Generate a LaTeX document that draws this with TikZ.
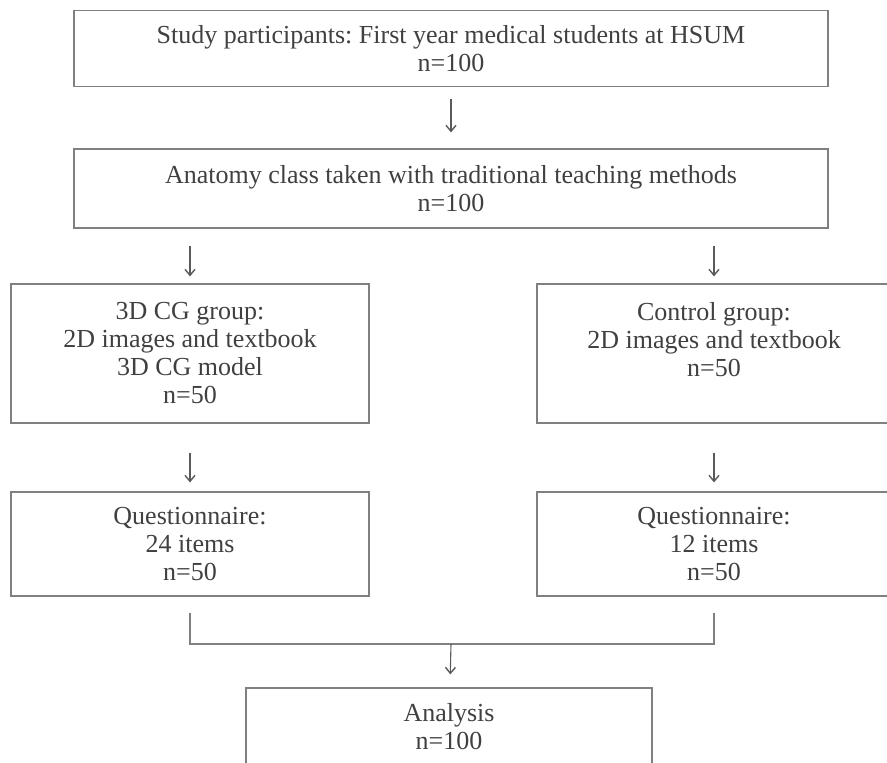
\documentclass[tikz,border=0pt]{standalone}
\usepackage{fontspec}
\setmainfont{Liberation Serif}
\usepackage{tikz}
\usetikzlibrary{arrows.meta,positioning,calc}
\frenchspacing

\definecolor{boxline}{HTML}{808080}
\definecolor{boxtext}{HTML}{404040}
\definecolor{arrowline}{HTML}{5A5A5A}

\begin{document}
\begin{tikzpicture}
%defines
  [x=1pt,y=-1pt,
stage/.style={rectangle,draw=boxline,line width=1.2pt,text=boxtext,
align=center,inner sep=0pt,font=\fontsize{26}{28}\selectfont},
wide/.style={stage,minimum width=754pt,minimum height=76pt},
branch/.style={stage,minimum width=358pt},
link/.style={draw=boxline,line width=1.1pt},
flow/.style={draw=arrowline,line width=1.1pt,-{Straight Barb[length=6pt,width=10pt,line width=1.4pt]}}]
\useasboundingbox (0,0) rectangle (887,763);
%nodes
\node[wide]   (participants) at (451,48.5)  {Study participants: First year medical students at HSUM\\n=100};
\node[wide,minimum height=79pt] (anatomy) at (451,188.5) {Anatomy class taken with traditional teaching methods\\n=100};
\node[branch,minimum height=139pt] (cg group)  at (190,353.5) {3D CG group:\\2D images and textbook\\3D CG model\\n=50};
\node[branch,minimum width=354pt,minimum height=139pt] (control group) at (714,353.5) {Control group:\\2D images and textbook\\n=50\\\mbox{}};
\node[branch,minimum height=104pt] (cg quest) at (190,544) {Questionnaire:\\24 items\\n=50};
\node[branch,minimum width=354pt,minimum height=104pt] (control quest) at (714,544) {Questionnaire:\\12 items\\n=50};
\node[stage,minimum width=406pt,minimum height=78pt] (analysis) at (449,727) {Analysis\\n=100};
\coordinate (merge) at (451,644);
%links
\draw [flow,shorten <=12pt,shorten >=16pt] (participants) to (anatomy);
\draw [flow,shorten <=17pt,shorten >=7pt] (anatomy.south -| cg group) to (cg group);
\draw [flow,shorten <=17pt,shorten >=7pt] (anatomy.south -| control group) to (control group);
\draw [flow,shorten <=29pt,shorten >=9pt] (cg group) to (cg quest);
\draw [flow,shorten <=29pt,shorten >=9pt] (control group) to (control quest);
\draw [link] ([yshift=-16pt]cg quest.south) |- (merge) -| ([yshift=-16pt]control quest.south);
\draw [flow,shorten >=13pt] (merge) to (analysis);
\end{tikzpicture}
\end{document}
